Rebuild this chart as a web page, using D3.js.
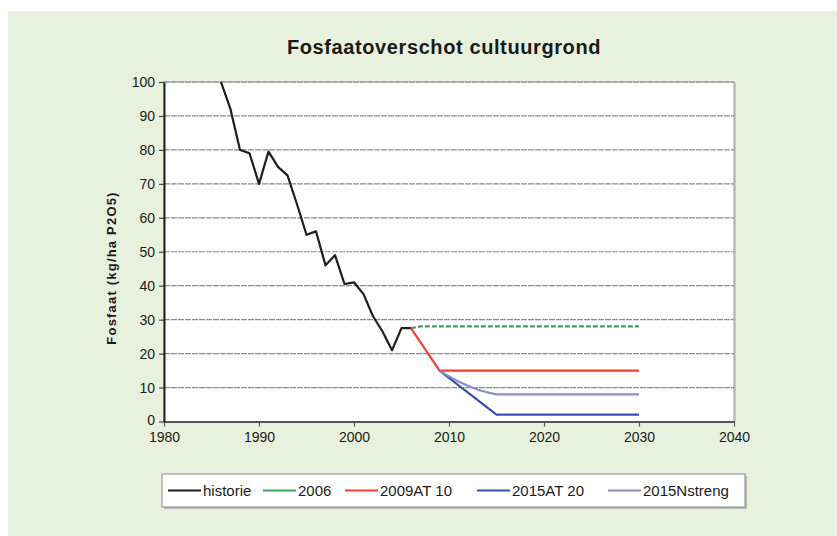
<!DOCTYPE html>
<html>
<head>
<meta charset="utf-8">
<script src="https://cdnjs.cloudflare.com/ajax/libs/d3/7.8.5/d3.min.js"></script>
<style>
	body { margin: 0; background: #ffffff; }
	svg text { font-family: "Liberation Sans", Arial, sans-serif; fill: #1a1a1a; }
</style>
</head>
<body>
<div id="chartDiv"></div>
<script>
// values
var historieYears = [1986, 1987, 1988, 1989, 1990, 1991, 1992, 1993, 1994, 1995, 1996, 1997, 1998, 1999, 2000, 2001, 2002, 2003, 2004, 2005, 2006];
var historieValues = [100, 92, 80, 79, 70, 79.5, 75, 72.5, 64, 55, 56, 46, 49, 40.5, 41, 37.5, 31, 26.5, 21, 27.5, 27.5];

var s2006Years = [2006, 2007, 2030];
var s2006Values = [27.5, 28, 28];

var s2009Years = [2006, 2009, 2030];
var s2009Values = [27.5, 15, 15];

var s2015ATYears = [2009, 2015, 2030];
var s2015ATValues = [15, 2, 2];

var s2015NYears = [2009, 2010, 2011, 2012, 2013, 2014, 2015, 2030];
var s2015NValues = [15, 13.3, 11.8, 10.5, 9.4, 8.6, 8, 8];

var seriesNames = ["historie", "2006", "2009AT 10", "2015AT 20", "2015Nstreng"];
var xTicks = [1980, 1990, 2000, 2010, 2020, 2030, 2040];
var yTicks = [0, 10, 20, 30, 40, 50, 60, 70, 80, 90, 100];

;(function() {

	var width = 837;
	var height = 536;
	var plot = { left: 164, right: 734, top: 82, bottom: 421.5 };

	var titleText = "Fosfaatoverschot cultuurgrond";
	var yAxisLabelHeader = "Fosfaat (kg/ha P2O5)";

	var colors = ["#1e1e1e", "#3aa35a", "#f2402e", "#3450b4", "#8a8fc8"];
	var dashes = [null, "5,2", null, null, null];

	var chart;

	init();

	function init() {
		var series = [
			{ years: historieYears, values: historieValues },
			{ years: s2006Years, values: s2006Values },
			{ years: s2009Years, values: s2009Values },
			{ years: s2015ATYears, values: s2015ATValues },
			{ years: s2015NYears, values: s2015NValues }
		];
		series.forEach(function(s, i) {
			s.name = seriesNames[i];
			s.points = s.years.map(function(y, j) { return { x: y, y: s.values[j] }; });
		});

		chart = d3.select("#chartDiv").append("svg")
			.attr("width", width)
			.attr("height", height);

		// green panel
		chart.append("rect")
			.attr("x", 8).attr("y", 11)
			.attr("width", width - 8).attr("height", height - 11)
			.attr("fill", "#e8f1dd");

		chart.xScale = d3.scaleLinear().domain([1980, 2040]).range([plot.left, plot.right]);
		chart.yScale = d3.scaleLinear().domain([0, 100]).range([plot.bottom, plot.top]);

		drawPlotArea();
		drawLines(series);
		createAxes();
		drawLegend();

		chart.append("text")
			.attr("x", 444)
			.attr("y", 54)
			.attr("text-anchor", "middle")
			.style("font-size", "20px")
			.style("font-weight", "bold")
			.style("letter-spacing", "0.6px")
			.text(titleText);
	}

	function drawPlotArea() {
		// shadow on right edge
		chart.append("rect")
			.attr("x", plot.left).attr("y", plot.top)
			.attr("width", plot.right - plot.left + 2)
			.attr("height", plot.bottom - plot.top)
			.attr("fill", "#c8ccc4");
		chart.append("rect")
			.attr("x", plot.left).attr("y", plot.top)
			.attr("width", plot.right - plot.left)
			.attr("height", plot.bottom - plot.top)
			.attr("fill", "#ffffff")
			.attr("stroke", "#9a9a9a")
			.attr("stroke-width", 1);

		chart.append("g")
			.selectAll("line")
			.data(yTicks.filter(function(d) { return d > 0; }))
			.enter().append("line")
				.attr("x1", plot.left)
				.attr("x2", plot.right)
				.attr("y1", function(d) { return chart.yScale(d); })
				.attr("y2", function(d) { return chart.yScale(d); })
				.attr("stroke", "#8c8c8c")
				.attr("stroke-width", 1.2)
				.attr("stroke-dasharray", "6,1");
	}

	function drawLines(series) {
		var line = d3.line()
			.x(function(d) { return chart.xScale(d.x); })
			.y(function(d) { return chart.yScale(d.y); });

		chart.append("g")
			.selectAll("path")
			.data(series)
			.enter().append("path")
				.attr("d", function(d) { return line(d.points); })
				.attr("fill", "none")
				.attr("stroke", function(d, i) { return colors[i]; })
				.attr("stroke-width", 2.2)
				.attr("stroke-linejoin", "round")
				.attr("stroke-dasharray", function(d, i) { return dashes[i]; });
	}

	function createAxes() {
		chart.xAxis = d3.axisBottom(chart.xScale)
			.tickValues(xTicks)
			.tickFormat(d3.format("d"))
			.tickSizeInner(5)
			.tickSizeOuter(0)
			.tickPadding(6);

		var xg = chart.append("g")
			.attr("transform", "translate(0," + plot.bottom + ")")
			.call(chart.xAxis);
		xg.select(".domain").attr("stroke", "#555").attr("stroke-width", 2);
		xg.selectAll(".tick line").attr("stroke", "#555").attr("stroke-width", 1.2);
		xg.selectAll("text").style("font-size", "14px").attr("fill", "#1a1a1a")
			.style("font-family", "Liberation Sans, Arial, sans-serif");

		chart.yAxis = d3.axisLeft(chart.yScale)
			.tickValues(yTicks)
			.tickSizeInner(5)
			.tickSizeOuter(0)
			.tickPadding(4);

		var yg = chart.append("g")
			.attr("transform", "translate(" + plot.left + ",0)")
			.call(chart.yAxis);
		yg.select(".domain").attr("stroke", "#1e1e1e").attr("stroke-width", 2);
		yg.selectAll(".tick line").attr("stroke", "#444").attr("stroke-width", 1.2);
		yg.selectAll("text").style("font-size", "14px").attr("fill", "#1a1a1a")
			.style("font-family", "Liberation Sans, Arial, sans-serif");
		// lift the "0" a little so it clears the 1980 label
		yg.selectAll(".tick text").filter(function(d) { return d === 0; }).attr("dy", "0.2em");

		// y axis header label
		chart.append("text")
			.attr("text-anchor", "middle")
			.style("font-size", "13px")
			.style("font-weight", "bold")
			.style("letter-spacing", "1.2px")
			.attr("transform", "translate(116,268) rotate(-90)")
			.text(yAxisLabelHeader);
	}

	function drawLegend() {
		var box = { x: 162, y: 474, w: 583, h: 33 };
		var starts = [168, 263, 345, 477, 608];

		chart.append("rect")
			.attr("x", box.x + 2).attr("y", box.y + 2)
			.attr("width", box.w).attr("height", box.h)
			.attr("fill", "#b8bcb4");
		chart.append("rect")
			.attr("x", box.x).attr("y", box.y)
			.attr("width", box.w).attr("height", box.h)
			.attr("fill", "#ffffff")
			.attr("stroke", "#8a8a8a");

		var items = chart.append("g").selectAll("g")
			.data(seriesNames)
			.enter().append("g")
				.attr("transform", function(d, i) { return "translate(" + starts[i] + "," + (box.y + box.h / 2) + ")"; });

		items.append("line")
			.attr("x1", 0).attr("x2", 33)
			.attr("stroke", function(d, i) { return colors[i]; })
			.attr("stroke-width", 2.2);

		items.append("text")
			.attr("x", 35)
			.attr("dy", "0.36em")
			.style("font-size", "15px")
			.text(function(d) { return d; });
	}
})();
</script>
</body>
</html>
